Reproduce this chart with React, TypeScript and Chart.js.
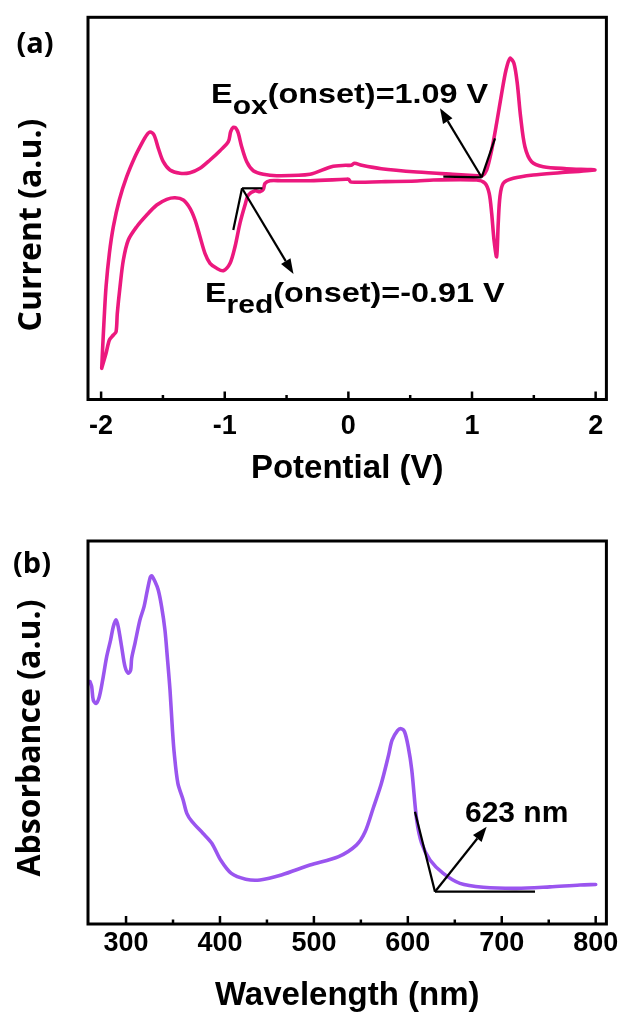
import React, { useEffect, useRef } from 'react';
import { Chart, registerables } from 'chart.js';

Chart.register(...registerables);

// ---------- Panel (a): cyclic voltammogram ----------
const cvPotential = [
  -1.995, -1.987, -1.976, -1.96, -1.933, -1.901, -1.853, -1.793, -1.726, -1.671,
  -1.631, -1.604, -1.572, -1.537, -1.497, -1.443, -1.362, -1.281, -1.2, -1.119,
  -1.038, -0.971, -0.952, -0.931, -0.909, -0.89, -0.863, -0.822, -0.769, -0.688, -0.58, -0.31,
  -0.137, -0.022, 0.021, 0.05, 0.108, 0.267, 0.555, 0.845, 1.047, 1.08,
  1.118, 1.159, 1.199, 1.24, 1.275, 1.307, 1.339, 1.366, 1.393, 1.428,
  1.482, 1.576, 1.765, 1.994,
  1.711, 1.495, 1.334, 1.253, 1.226, 1.212, 1.199, 1.178, 1.159, 1.139,
  1.105, 1.038, 0.687, 0.556, 0.267, 0.021, 0.002, -0.022, -0.31, -0.542,
  -0.634, -0.674, -0.688, -0.715, -0.755, -0.809, -0.836, -0.877, -0.917, -0.957,
  -1.012, -1.065, -1.119, -1.16, -1.2, -1.24, -1.281, -1.335, -1.402, -1.469,
  -1.55, -1.631, -1.712, -1.78, -1.82, -1.847, -1.869, -1.879, -1.901, -1.933,
  -1.96, -1.995,
];
const cvCurrent = [
  -19.03, -16.87, -14.2, -10.87, -7.53, -4.87, -2.2, 0.13, 2.13, 3.47,
  4.3, 4.6, 4.3, 2.97, 1.63, 0.8, 0.47, 0.53, 0.97, 1.8,
  2.73, 3.63, 4.63, 5.07, 4.97, 4.47, 3.13, 1.63, 0.73, 0.37, 0.23, 0.37,
  1.13, 1.27, 1.27, 1.47, 1.27, 0.93, 0.6, 0.37, 0.23, 0.2,
  0.8, 2.8, 5.47, 8.47, 10.8, 11.97, 11.47, 9.47, 6.13, 3.13,
  1.63, 1.13, 0.93, 0.8,
  0.53, 0.3, -0.03, -0.53, -1.87, -4.53, -7.87, -6.2, -3.53, -1.53,
  -0.53, -0.2, -0.2, -0.3, -0.37, -0.4, -0.13, -0.13, -0.27, -0.27,
  -0.27, -0.53, -1.13, -1.37, -1.27, -1.7, -2.7, -4.53, -6.87, -8.53,
  -9.27, -9.03, -8.53, -7.53, -5.87, -4.2, -3.03, -2.2, -1.97, -2.13,
  -2.7, -3.7, -4.87, -6.2, -8.2, -10.87, -13.53, -15.37, -15.7, -16.2,
  -17.53, -19.03,
];
const cvMajorTicks = [-2, -1, 0, 1, 2];
const cvMinorTicks = [-1.5, -0.5, 0.5, 1.5];
const cvPotentialRange = [-2.106, 2.087];
const cvCurrentRange = [-22.15, 16.07];

// onset construction lines (potential, current)
const eRedOnsetLines = [
  [-0.931, -5.2, -0.86, -1.03],
  [-0.86, -1.03, -0.695, -1.03],
];
const eRedArrow = [-0.86, -1.03, -0.444, -9.6];
const eOxOnsetLines = [
  [0.768, 0.13, 1.078, 0.07],
  [1.078, 0.07, 1.186, 3.97],
];
const eOxArrow = [1.078, 0.07, 0.741, 6.97];
const eOxLabel = ['E', 'ox', '(onset)=1.09 V'];
const eOxLabelAt = [-1.111, 7.47];
const eRedLabel = ['E', 'red', '(onset)=-0.91 V'];
const eRedLabelAt = [-1.16, -12.37];

// ---------- Panel (b): UV-vis absorption ----------
const uvWavelength = [
  261.6, 263.4, 265.1, 268.0, 271.5, 275.1, 279.4, 283.6, 286.4, 289.3,
  291.7, 295.3, 298.9, 302.4, 304.9, 306.0, 309.5, 314.8, 319.1, 322.0,
  325.5, 327.3, 330.8, 334.3, 337.9, 341.4, 343.9, 346.8, 349.4, 351.3,
  355.2, 360.8, 364.7, 370.3, 381.8, 391.3, 400.7, 412.1, 427.4, 442.6,
  465.4, 495.8, 526.3, 545.2, 554.4, 563.2, 571.8, 579.5, 583.2, 589.0,
  592.8, 596.5, 600.4, 604.2, 609.4, 614.7, 623.6, 637.7, 655.5, 680.3,
  715.9, 751.3, 783.3, 800,
];
const uvAbsorbance = [
  0.633, 0.62, 0.585, 0.576, 0.593, 0.637, 0.698, 0.742, 0.776, 0.794,
  0.776, 0.724, 0.672, 0.655, 0.663, 0.694, 0.733, 0.794, 0.828, 0.863,
  0.903, 0.909, 0.894, 0.872, 0.828, 0.768, 0.698, 0.611, 0.507, 0.446,
  0.367, 0.324, 0.289, 0.267, 0.237, 0.211, 0.167, 0.132, 0.117, 0.115,
  0.128, 0.154, 0.176, 0.206, 0.24, 0.303, 0.367, 0.441, 0.48, 0.505,
  0.51, 0.502, 0.463, 0.402, 0.272, 0.211, 0.167, 0.132, 0.106, 0.096,
  0.093, 0.097, 0.102, 0.103,
];
const uvMajorTicks = [300, 400, 500, 600, 700, 800];
const uvMinorTicks = [350, 450, 550, 650, 750];
const uvWavelengthRange = [259.5, 811.4];
const uvAbsorbanceRange = [0, 1];

const uvOnsetLines = [
  [607.6, 0.293, 628.9, 0.0843],
  [628.9, 0.0843, 735.4, 0.0843],
];
const uvArrow = [628.9, 0.0843, 683.9, 0.2538];
const uvOnsetLabel = ['623 nm'];
const uvOnsetLabelAt = [660.8, 0.267];

// ---------- drawing helpers ----------
const ARIAL = "'Liberation Sans', Arial, Helvetica, sans-serif";
const HUMANIST = "'Open Sans', 'Noto Sans', sans-serif";

function drawRich(ctx, x, y, parts, size, subSize, subDy, sx) {
  ctx.save();
  ctx.translate(x, y);
  ctx.scale(sx, 1);
  ctx.textAlign = 'left';
  ctx.textBaseline = 'alphabetic';
  let cx = 0;
  parts.forEach((p, i) => {
    const sub = parts.length === 3 && i === 1;
    ctx.font = `bold ${sub ? subSize : size}px ${ARIAL}`;
    ctx.fillText(p, cx, sub ? subDy : 0);
    cx += ctx.measureText(p).width;
  });
  ctx.restore();
}

function makeDecor(cfg) {
  return {
    id: 'decor',
    afterDatasetsDraw(chart) {
      const { ctx, chartArea: a } = chart;
      const xs = chart.scales.x;
      const ys = chart.scales.y;
      const X = (v) => xs.getPixelForValue(v);
      const Y = (v) => ys.getPixelForValue(v);
      ctx.save();
      ctx.strokeStyle = '#000';
      ctx.fillStyle = '#000';
      // construction lines
      ctx.lineWidth = 2.2;
      ctx.lineCap = 'butt';
      for (const [x1, y1, x2, y2] of cfg.lines) {
        ctx.beginPath();
        ctx.moveTo(X(x1), Y(y1));
        ctx.lineTo(X(x2), Y(y2));
        ctx.stroke();
      }
      for (const [x1, y1, x2, y2] of cfg.arrows) {
        const px1 = X(x1), py1 = Y(y1), px2 = X(x2), py2 = Y(y2);
        const ang = Math.atan2(py2 - py1, px2 - px1);
        const L = 15, W = 5.5;
        const bx = px2 - L * Math.cos(ang), by = py2 - L * Math.sin(ang);
        ctx.beginPath();
        ctx.moveTo(px1, py1);
        ctx.lineTo(bx, by);
        ctx.stroke();
        ctx.beginPath();
        ctx.moveTo(px2, py2);
        ctx.lineTo(bx - W * Math.sin(ang), by + W * Math.cos(ang));
        ctx.lineTo(bx + W * Math.sin(ang), by - W * Math.cos(ang));
        ctx.closePath();
        ctx.fill();
      }
      // frame
      ctx.lineWidth = 3;
      ctx.strokeRect(a.left, a.top, a.right - a.left, a.bottom - a.top);
      // inward ticks
      ctx.lineWidth = 2.5;
      const tick = (v, len) => {
        const p = X(v);
        ctx.beginPath();
        ctx.moveTo(p, a.bottom);
        ctx.lineTo(p, a.bottom - len);
        ctx.stroke();
      };
      xs.ticks.forEach((t) => tick(t.value, 8));
      cfg.minor.forEach((v) => tick(v, 4.5));
      // annotation texts
      for (const t of cfg.texts) {
        drawRich(ctx, X(t.at[0]), Y(t.at[1]), t.parts, t.size, t.subSize, t.subDy, t.sx);
      }
      // y title
      ctx.save();
      ctx.translate(cfg.yTitle.cx, cfg.yTitle.cy);
      ctx.rotate(-Math.PI / 2);
      ctx.textAlign = 'center';
      ctx.textBaseline = 'middle';
      ctx.font = `bold ${cfg.yTitle.size}px ${HUMANIST}`;
      ctx.fillText(cfg.yTitle.text, 0, 0);
      ctx.restore();
      // panel label
      ctx.textAlign = 'center';
      ctx.textBaseline = 'middle';
      ctx.font = `bold ${cfg.panel.size}px ${HUMANIST}`;
      ctx.fillText(cfg.panel.text, cfg.panel.cx, cfg.panel.cy);
      ctx.restore();
    },
  };
}

function makeConfig(o) {
  return {
    type: 'scatter',
    data: {
      datasets: [
        {
          data: o.xs.map((x, i) => ({ x, y: o.ys[i] })),
          showLine: true,
          borderColor: o.color,
          backgroundColor: o.color,
          borderWidth: 3.6,
          pointRadius: 0,
          tension: 0.3,
          borderJoinStyle: 'round',
          borderCapStyle: 'round',
          fill: false,
        },
      ],
    },
    options: {
      responsive: false,
      devicePixelRatio: 1,
      animation: false,
      events: [],
      layout: { padding: o.padding },
      plugins: { legend: { display: false }, tooltip: { enabled: false } },
      scales: {
        x: {
          type: 'linear',
          min: o.xRange[0],
          max: o.xRange[1],
          afterBuildTicks: (s) => {
            s.ticks = o.major.map((v) => ({ value: v }));
          },
          afterFit: (s) => {
            s.height = o.axisHeight;
          },
          grid: { display: false, drawTicks: false },
          border: { display: false },
          ticks: {
            autoSkip: false,
            maxRotation: 0,
            padding: o.tickPad,
            color: '#000',
            font: { family: ARIAL, size: 27, weight: 'bold' },
            callback: (v) => String(v),
          },
          title: {
            display: true,
            text: o.xTitle,
            color: '#000',
            font: { family: ARIAL, size: 33, weight: 'bold' },
            padding: { top: 0, bottom: o.titlePad },
          },
        },
        y: { display: false, min: o.yRange[0], max: o.yRange[1] },
      },
    },
    plugins: [makeDecor(o.decor)],
  };
}

export default function App() {
  const refA = useRef(null);
  const refB = useRef(null);

  useEffect(() => {
    const chartA = new Chart(
      refA.current,
      makeConfig({
        xs: cvPotential,
        ys: cvCurrent,
        color: '#ec187e',
        xRange: cvPotentialRange,
        yRange: cvCurrentRange,
        major: cvMajorTicks,
        padding: { left: 88, right: 16.6, top: 17.3, bottom: 0 },
        axisHeight: 110.5,
        tickPad: 11,
        titlePad: 21.6,
        xTitle: 'Potential (V)',
        decor: {
          minor: cvMinorTicks,
          lines: [...eRedOnsetLines, ...eOxOnsetLines],
          arrows: [eRedArrow, eOxArrow],
          texts: [
            { parts: eOxLabel, at: eOxLabelAt, size: 27, subSize: 25, subDy: 11, sx: 1.2 },
            { parts: eRedLabel, at: eRedLabelAt, size: 27, subSize: 25, subDy: 11, sx: 1.2 },
          ],
          yTitle: { text: 'Current (a.u.)', cx: 31.5, cy: 225, size: 32 },
          panel: { text: '(a)', cx: 35, cy: 45, size: 29 },
        },
      })
    );
    const chartB = new Chart(
      refB.current,
      makeConfig({
        xs: uvWavelength,
        ys: uvAbsorbance,
        color: '#9a55ef',
        xRange: uvWavelengthRange,
        yRange: uvAbsorbanceRange,
        major: uvMajorTicks,
        padding: { left: 88, right: 16.6, top: 31, bottom: 0 },
        axisHeight: 97,
        tickPad: 3.6,
        titlePad: 5.6,
        xTitle: 'Wavelength (nm)',
        decor: {
          minor: uvMinorTicks,
          lines: uvOnsetLines,
          arrows: [uvArrow],
          texts: [
            { parts: uvOnsetLabel, at: uvOnsetLabelAt, size: 30, subSize: 30, subDy: 0, sx: 1 },
          ],
          yTitle: { text: 'Absorbance (a.u.)', cx: 30.5, cy: 228, size: 32 },
          panel: { text: '(b)', cx: 32, cy: 55, size: 29 },
        },
      })
    );
    return () => {
      chartA.destroy();
      chartB.destroy();
    };
  }, []);

  return (
    <div style={{ position: 'absolute', left: 0, top: 0, width: 623, height: 1021, background: '#fff', overflow: 'hidden' }}>
      <canvas ref={refA} width={623} height={510} style={{ position: 'absolute', left: 0, top: 0, display: 'block' }} />
      <canvas ref={refB} width={623} height={511} style={{ position: 'absolute', left: 0, top: 510, display: 'block' }} />
    </div>
  );
}
